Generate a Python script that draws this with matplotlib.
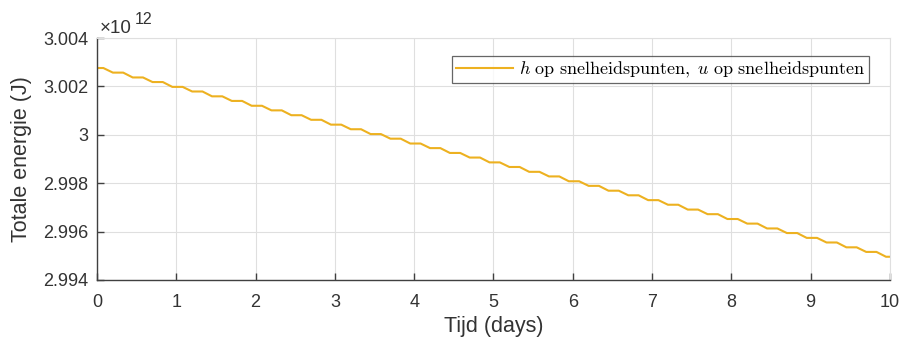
import numpy as np
import matplotlib
matplotlib.use("Agg")
import matplotlib.pyplot as plt
from matplotlib.ticker import FuncFormatter

plt.rcParams['font.family'] = ['Liberation Sans', 'DejaVu Sans']
plt.rcParams['mathtext.fontset'] = 'cm'

# Total energy at each plateau of the staircase (units of 1e12 J), one plateau per quarter day
energy_levels = [
    3.00276, 3.00257, 3.00237, 3.00218, 3.00198, 3.00179, 3.00159, 3.00140,
    3.00120, 3.00101, 3.00081, 3.00062, 3.00042, 3.00023, 3.00003, 2.99984,
    2.99964, 2.99945, 2.99925, 2.99906, 2.99886, 2.99867, 2.99847, 2.99828,
    2.99808, 2.99789, 2.99769, 2.99750, 2.99730, 2.99711, 2.99691, 2.99672,
    2.99652, 2.99633, 2.99613, 2.99594, 2.99574, 2.99555, 2.99535, 2.99516,
    2.99496,
]
plateau_days = np.arange(len(energy_levels)) * 0.25   # nominal time of each plateau
plateau_lead = 0.05    # plateau begins this long before its nominal time
plateau_trail = 0.08   # and lasts until this long after it

series_label = r"$h\ \mathrm{op\ snelheidspunten,}\ u\ \mathrm{op\ snelheidspunten}$"
x_ticks = list(range(0, 11))
y_ticks = [2.994, 2.996, 2.998, 3.000, 3.002, 3.004]

# Build the time/energy path: each level is held over its plateau, then drops to the next
t, e = [], []
for day, lvl in zip(plateau_days, energy_levels):
    t0 = max(0.0, day - plateau_lead)
    t1 = min(10.0, day + plateau_trail)
    t += [t0, t1]
    e += [lvl * 1e12, lvl * 1e12]

fig = plt.figure(figsize=(9.05, 3.51), dpi=100)
ax = fig.add_axes([0.1072, 0.2023, 0.8762, 0.6894])

ax.plot(t, e, color='#EDB120', lw=1.5, solid_joinstyle='round', label=series_label)

ax.set_xlim(0, 10)
ax.set_ylim(y_ticks[0] * 1e12, y_ticks[-1] * 1e12)
ax.set_xticks(x_ticks)
ax.set_yticks([v * 1e12 for v in y_ticks])
ax.yaxis.set_major_formatter(FuncFormatter(lambda v, p: f"{v/1e12:g}"))

dark = '#333333'
axis_c = '#404040'
grid_c = '#dfdfdf'
ax.grid(True, color=grid_c, lw=0.8)
for s in ('left', 'bottom'):
    ax.spines[s].set_color(axis_c)
    ax.spines[s].set_linewidth(1.0)
for s in ('top', 'right'):
    ax.spines[s].set_color(grid_c)
    ax.spines[s].set_linewidth(0.8)
ax.tick_params(direction='in', length=5, width=1.0, color=axis_c, labelcolor=dark,
               labelsize=13, top=False, right=False)
ax.tick_params(axis='x', pad=10)
ax.tick_params(axis='y', pad=6)

ax.set_xlabel('Tijd (days)', fontsize=15.5, color=dark, labelpad=4)
ax.set_ylabel('Totale energie (J)', fontsize=15.5, color=dark, labelpad=8)

# Exponent of the y axis, drawn above the top-left corner
fig.text(0.1105, 0.906, '\u00d710', fontsize=13.5, color=dark,
         ha='left', va='baseline')
fig.text(0.149, 0.933, '12', fontsize=11.5, color=dark, ha='left', va='baseline')

leg = ax.legend(loc='upper right', bbox_to_anchor=(0.973, 0.925), fontsize=13,
                frameon=True, fancybox=False, handlelength=3.2, handletextpad=0.3,
                borderpad=0.2, borderaxespad=0)
leg.get_frame().set_edgecolor(axis_c)
leg.get_frame().set_linewidth(0.9)

fig.savefig('out.png', dpi=100)
